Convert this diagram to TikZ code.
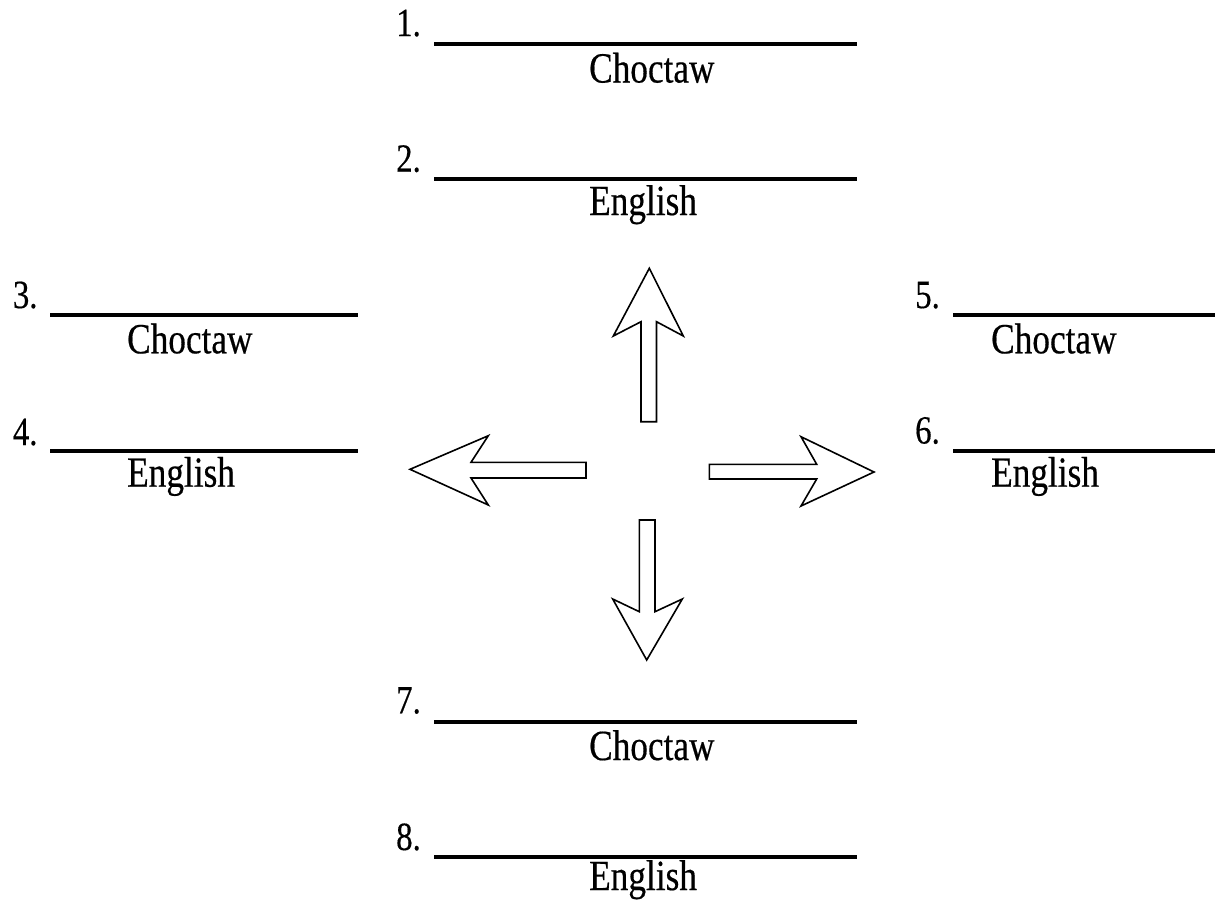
\documentclass[tikz,border=0pt]{standalone}
\usepackage{fontspec}
\setmainfont[FakeStretch=0.82,FakeBold=0.4]{Liberation Serif}
\begin{document}
\begin{tikzpicture}[x=1pt,y=-1pt,
  blank/.style={line width=4pt},
  num/.style={anchor=base west,inner sep=0pt,font=\fontsize{40}{40}\selectfont},
  lang/.style={anchor=base west,inner sep=0pt,font=\fontsize{43}{43}\selectfont},
  arr/.style={draw,line width=1.6pt,line join=miter,fill=white}]
\useasboundingbox (0,0) rectangle (1215,903);
% item 1
\coordinate (l1a) at (434,43.5); \coordinate (l1b) at (857,43.5);
\draw[blank] (l1a) -- (l1b);
\node[num] (n1) at (396,36) {1.};
\node[lang] (t1) at (589,82.5) {Choctaw};
% item 2
\coordinate (l2a) at (434,178.8); \coordinate (l2b) at (857,178.8);
\draw[blank] (l2a) -- (l2b);
\node[num] (n2) at (396,171.7) {2.};
\node[lang] (t2) at (589,215) {English};
% item 3
\coordinate (l3a) at (50,314.7); \coordinate (l3b) at (358,314.7);
\draw[blank] (l3a) -- (l3b);
\node[num] (n3) at (12.7,308) {3.};
\node[lang] (t3) at (127,353.3) {Choctaw};
% item 4
\coordinate (l4a) at (50,451.3); \coordinate (l4b) at (358,451.3);
\draw[blank] (l4a) -- (l4b);
\node[num] (n4) at (12.7,445) {4.};
\node[lang] (t4) at (127,486.7) {English};
% item 5
\coordinate (l5a) at (953,315); \coordinate (l5b) at (1215,315);
\draw[blank] (l5a) -- (l5b);
\node[num] (n5) at (915,308) {5.};
\node[lang] (t5) at (991,353.3) {Choctaw};
% item 6
\coordinate (l6a) at (953,451); \coordinate (l6b) at (1215,451);
\draw[blank] (l6a) -- (l6b);
\node[num] (n6) at (915,443.5) {6.};
\node[lang] (t6) at (991,486.7) {English};
% item 7
\coordinate (l7a) at (434,721.7); \coordinate (l7b) at (857,721.7);
\draw[blank] (l7a) -- (l7b);
\node[num] (n7) at (396,713.3) {7.};
\node[lang] (t7) at (589,760) {Choctaw};
% item 8
\coordinate (l8a) at (434,856.7); \coordinate (l8b) at (857,856.7);
\draw[blank] (l8a) -- (l8b);
\node[num] (n8) at (396,850) {8.};
\node[lang] (t8) at (589,890) {English};
% arrows
\draw[arr] (641,421.7) -- (641,321.7) -- (613.3,336) -- (649.3,268.3) -- (683.3,336) -- (656.5,321.7) -- (656.5,421.7) -- cycle;
\draw[arr] (586,462.3) -- (471,462.3) -- (488.3,435.7) -- (410,469.3) -- (488.3,505) -- (471,478) -- (586,478) -- cycle;
\draw[arr] (709.3,464.3) -- (816.7,464.3) -- (801,436.7) -- (874,472) -- (801,506) -- (816.7,479) -- (709.3,479) -- cycle;
\draw[arr] (639.3,520) -- (655,520) -- (655,611.7) -- (682.3,599) -- (646.7,660) -- (612.7,599) -- (639.3,611.7) -- cycle;
\end{tikzpicture}
\end{document}
